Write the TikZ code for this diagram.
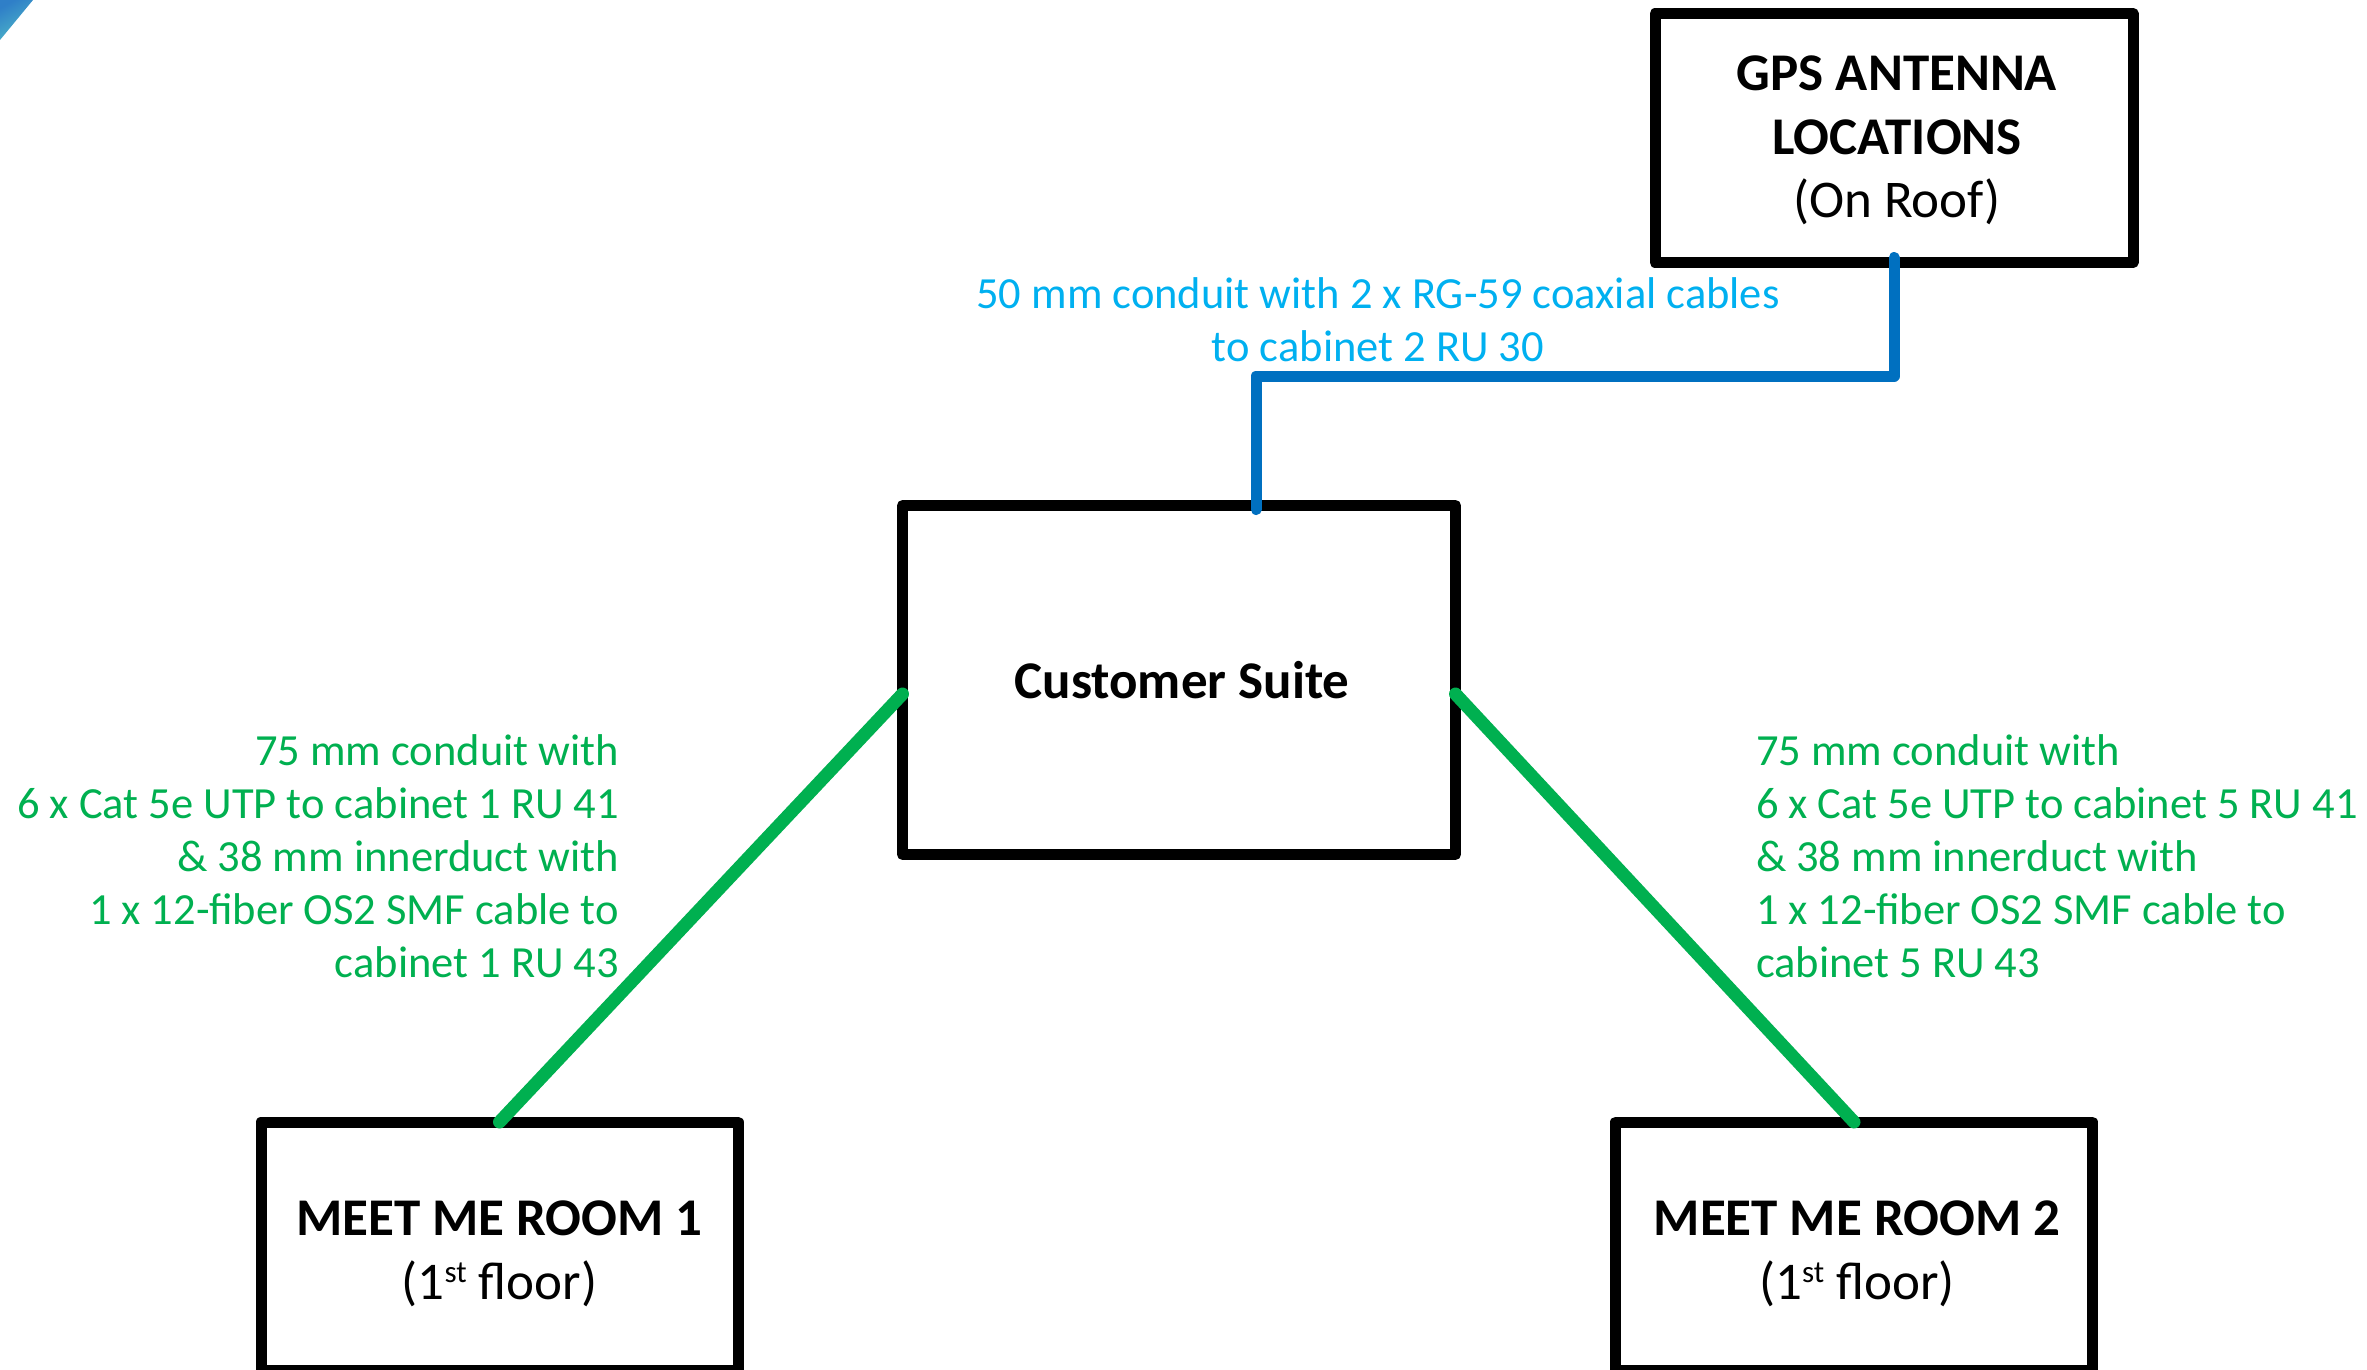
\documentclass[tikz,border=0pt]{standalone}
\usepackage{fontspec}
\setmainfont{Carlito}
\usetikzlibrary{calc}
\definecolor{gblue}{HTML}{0070C0}
\definecolor{ggreen}{HTML}{00B050}
\definecolor{lblue}{HTML}{00B0F0}
\definecolor{cornera}{HTML}{2F7FC8}
\definecolor{cornerb}{HTML}{4FB8C8}
\newcommand{\tb}{\fontsize{53}{63.5}\selectfont}
\newcommand{\lb}{\fontsize{44.5}{53}\selectfont}
\newcommand{\supst}{\raisebox{17pt}{\fontsize{31}{31}\selectfont st}}
\tikzset{
  roombox/.style={draw=black,line width=11pt,line join=round,fill=white,rectangle,inner sep=0pt,outer sep=0pt,align=center,font=\tb,text=black},
  conn/.style={line width=11pt,line cap=round,line join=round},
  greenconn/.style={line width=13pt,line cap=round,ggreen},
  cabletext/.style={inner sep=0pt,outer sep=0pt,font=\lb}
}
\begin{document}
\begin{tikzpicture}[x=1pt,y=-1pt]
\useasboundingbox (0,0) rectangle (2367,1370);
\fill[white] (0,0) rectangle (2367,1370);
\shade[left color=cornera,right color=cornerb,shading angle=30] (0,0) -- (33,0) -- (0,40) -- cycle;
\node[roombox,minimum width=478pt,minimum height=249pt] (gps) at (1894,138) {\rule{0pt}{40pt}\kern6pt\textbf{GPS ANTENNA}\\\kern6pt\textbf{LOCATIONS}\\\kern6pt(On Roof)};
\node[roombox,minimum width=553pt,minimum height=349pt] (suite) at (1179,680) {\kern6pt\textbf{Customer Suite}};
\node[roombox,minimum width=477pt,minimum height=248pt] (mmra) at (499.5,1246) {\rule{0pt}{50pt}\textbf{MEET ME ROOM 1}\\(1\supst{} floor)};
\node[roombox,minimum width=477pt,minimum height=248pt] (mmrb) at (1854,1246) {\rule{0pt}{50pt}\kern6pt\textbf{MEET ME ROOM 2}\\\kern6pt(1\supst{} floor)};
\coordinate (bluefrom) at ([yshift=5pt]gps.south);
\coordinate (blueto) at ([xshift=77pt,yshift=-4pt]suite.north);
\draw[conn,gblue] (bluefrom) -- (bluefrom|-0,376) -- (blueto|-0,376) -- (blueto);
\draw[greenconn] ([yshift=-14pt]suite.west) -- (mmra.north);
\draw[greenconn] ([yshift=-14pt]suite.east) -- (mmrb.north);
\node[cabletext,text=lblue,align=center] (bluetext) at (1378,320) {50 mm conduit with 2 x RG-59 coaxial cables\\to cabinet 2 RU 30};
\node[cabletext,text=ggreen,align=right,anchor=east] (greena) at (619,856) {75 mm conduit with\\6 x Cat 5e UTP to cabinet 1 RU 41\\\& 38 mm innerduct with\\1 x 12-fiber OS2 SMF cable to\\cabinet 1 RU 43};
\node[cabletext,text=ggreen,align=left,anchor=west] (greenb) at (1756,856) {75 mm conduit with\\6 x Cat 5e UTP to cabinet 5 RU 41\\\& 38 mm innerduct with\\1 x 12-fiber OS2 SMF cable to\\cabinet 5 RU 43};
\end{tikzpicture}
\end{document}
